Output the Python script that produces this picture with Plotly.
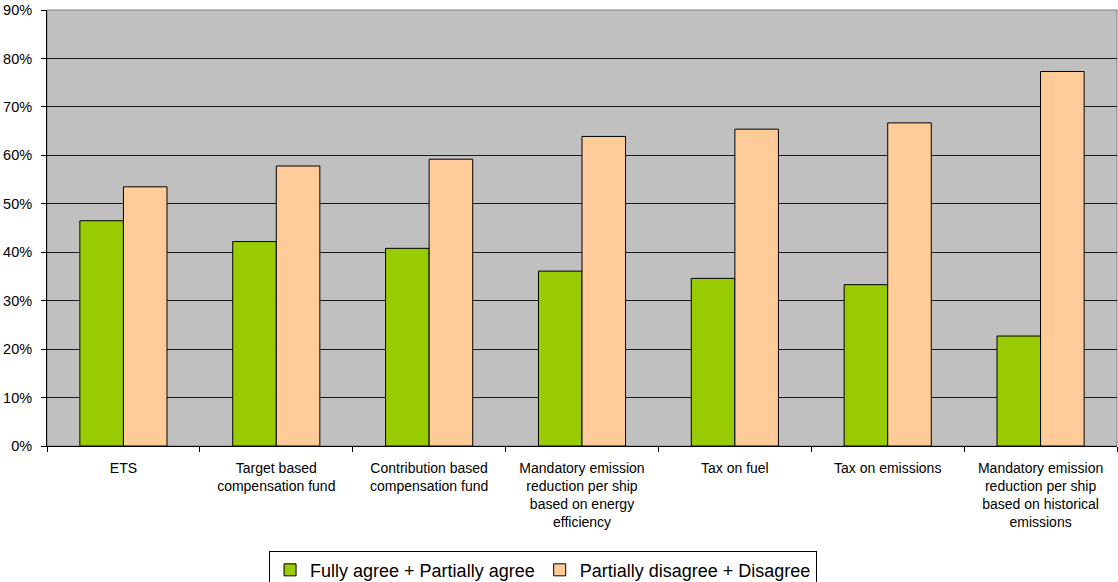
import plotly.graph_objects as go

# Survey results per policy option (share of respondents)
categories = [
    "ETS",
    "Target based<br>compensation fund",
    "Contribution based<br>compensation fund",
    "Mandatory emission<br>reduction per ship<br>based on energy<br>efficiency",
    "Tax on fuel",
    "Tax on emissions",
    "Mandatory emission<br>reduction per ship<br>based on historical<br>emissions",
]
agree = [0.465, 0.422, 0.408, 0.361, 0.346, 0.333, 0.227]
disagree = [0.535, 0.578, 0.592, 0.639, 0.654, 0.667, 0.773]
series_names = ["Fully agree + Partially agree", "Partially disagree + Disagree"]
y_ticks = [0, 0.1, 0.2, 0.3, 0.4, 0.5, 0.6, 0.7, 0.8, 0.9]

FONT = "Arial, 'Liberation Sans', sans-serif"

fig = go.Figure()
fig.add_trace(go.Bar(
    x=categories, y=agree, name=series_names[0],
    marker=dict(color="#99CC00", line=dict(color="#000000", width=1)),
))
fig.add_trace(go.Bar(
    x=categories, y=disagree, name=series_names[1],
    marker=dict(color="#FFCC99", line=dict(color="#000000", width=1)),
))

# grey frame around the plotting area
fig.add_shape(type="rect", xref="paper", yref="paper", x0=0, x1=1, y0=0, y1=1,
              line=dict(color="#808080", width=1), layer="below")

fig.update_layout(
    width=1118, height=582,
    margin=dict(l=47, r=1, t=10, b=136, autoexpand=False),
    paper_bgcolor="#FFFFFF",
    plot_bgcolor="#C0C0C0",
    barmode="group",
    bargap=0.43,
    bargroupgap=0,
    font=dict(family=FONT, color="#000000"),
    showlegend=True,
    legend=dict(
        orientation="h",
        x=0.4636, xanchor="center",
        y=-0.240, yanchor="top",
        bgcolor="#FFFFFF",
        bordercolor="#000000", borderwidth=1,
        font=dict(family=FONT, size=18, color="#000000"),
        tracegroupgap=0,
    ),
)

fig.update_xaxes(
    type="category",
    showline=True, linecolor="#000000", linewidth=1,
    ticks="outside", tickson="boundaries", ticklen=5, tickcolor="#000000",
    tickfont=dict(family=FONT, size=14, color="#000000"),
    ticklabelstandoff=9,
    showgrid=False,
)
fig.update_yaxes(
    range=[0, 0.9],
    tickvals=y_ticks,
    tickformat=".0%",
    showline=True, linecolor="#000000", linewidth=1,
    ticks="outside", ticklen=5, tickcolor="#000000",
    tickfont=dict(family=FONT, size=14.5, color="#000000"),
    ticklabelstandoff=6,
    showgrid=True, gridcolor="#1a1a1a", gridwidth=1,
    zeroline=False,
)

fig.write_html("out.html")
